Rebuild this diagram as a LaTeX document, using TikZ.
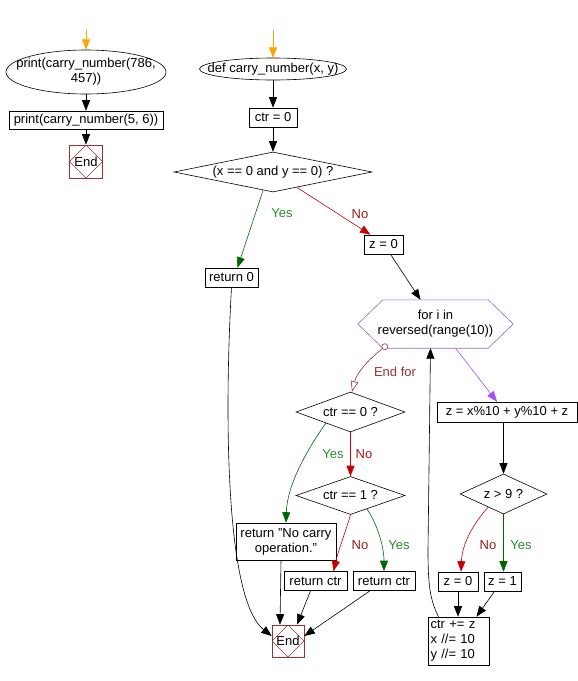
\documentclass[tikz,border=0pt]{standalone}
\usepackage{fontspec}
\setmainfont{Liberation Sans}
\usetikzlibrary{shapes.geometric,arrows.meta,calc}
\definecolor{orangec}{HTML}{FFA500}
\definecolor{greenl}{HTML}{006600}
\definecolor{greent}{HTML}{2E8B2E}
\definecolor{redl}{HTML}{C80000}
\definecolor{redt}{HTML}{A01818}
\definecolor{endc}{HTML}{993333}
\definecolor{purpl}{HTML}{9966CC}
\definecolor{purpa}{HTML}{A64DFF}
\begin{document}
\begin{tikzpicture}[x=1pt,y=-1pt,
  font=\fontsize{13pt}{15pt}\selectfont,
  box/.style={draw, fill=white, inner sep=2pt, line width=0.6pt, minimum height=19pt},
  plain/.style={inner sep=0pt},
  lbl/.style={inner sep=0pt},
  endbox/.style={draw=endc, line width=0.6pt, minimum size=33pt, inner sep=0pt,
    path picture={\draw[endc,line width=0.6pt] (path picture bounding box.north) -- (path picture bounding box.east) -- (path picture bounding box.south) -- (path picture bounding box.west) -- cycle;}},
  dia/.style={draw, diamond, fill=white, inner sep=0pt, line width=0.6pt},
  arr/.style={-{Triangle[length=10.5pt,width=8pt]}, line width=0.6pt},
  yesl/.style={arr, greenl},
  nol/.style={arr, redl},
  yest/.style={lbl, text=greent},
  not/.style={lbl, text=redt}]
\useasboundingbox[fill=white] (0,0) rectangle (578,681);

% ---------- left column ----------
\coordinate (s1) at (86,30);
\node[plain, minimum width=160pt, minimum height=44pt, align=center] (e1) at (86,72) {print(carry\_number(786,\\457))};
\draw[line width=0.6pt] (e1.center) ellipse [x radius=80pt, y radius=22pt];
\node[box, minimum width=154pt, minimum height=18pt] (b1) at (86,120) {print(carry\_number(5, 6))};
\node[endbox] (end1) at (86,161.5) {End};
\draw[arr, orangec] (s1) -- (e1.north);
\draw[arr] (e1.south) -- (b1.north);
\draw[arr] (b1.south) -- (end1.north);

% ---------- main flow ----------
\coordinate (s2) at (273,30);
\node[plain, minimum width=147pt, minimum height=22pt] (e2) at (273,69) {def carry\_number(x, y)};
\draw[line width=0.6pt] (e2.center) ellipse [x radius=73.5pt, y radius=11pt];
\node[box, minimum width=48pt] (ctr0) at (273,117.5) {ctr = 0};
\node[dia, aspect=4.95, minimum width=198pt, minimum height=40pt] (d) at (273,172) {(x == 0 and y == 0) ?};
\node[box, minimum width=53pt] (ret0) at (231.5,277.5) {return 0};
\node[box, minimum width=39pt] (za) at (383.5,244.5) {z = 0};

\draw[arr, orangec] (s2) -- (e2.north);
\draw[arr] (e2.south) -- (ctr0.north);
\draw[arr] (ctr0.south) -- (d.north);
\draw[yesl] ($(d.south)!0.1!(d.west)$) -- ([xshift=6pt]ret0.north);
\node[yest] at (282,213) {Yes};
\draw[nol] ($(d.south)!0.24!(d.east)$) -- ([xshift=-13pt]za.north);
\node[not] at (360,214) {No};

% for hexagon
\node[plain, minimum width=155pt, minimum height=48pt, align=center] (fh) at (435.5,324) {for i in\\reversed(range(10))};
\draw[purpl, line width=0.6pt] (fh.west) -- ([xshift=25pt]fh.north west) -- ([xshift=-25pt]fh.north east) -- (fh.east) -- ([xshift=-25pt]fh.south east) -- ([xshift=25pt]fh.south west) -- cycle;
\draw[arr] ([xshift=7pt]za.south) -- ([xshift=-15pt]fh.north);

\node[box, minimum width=140pt, minimum height=20pt] (zx) at (507,412) {z = x\%10 + y\%10 + z};
\draw[arr, purpa] ([xshift=20pt]fh.south) -- ([xshift=-10pt]zx.north);

% End for branch
\node[dia, aspect=2.7, minimum width=109pt, minimum height=40pt] (c0) at (350.5,412) {ctr == 0 ?};
\coordinate (efc) at ([xshift=27pt,yshift=1.5pt]fh.south west);
\draw[endc, line width=0.6pt, -{Triangle[open,length=10.5pt,width=7.5pt]}] (efc) .. controls (370,358) and (357,372) .. ([xshift=1.5pt]c0.north);
\draw[endc, fill=white, line width=0.6pt] (efc) circle [radius=3pt];
\node[lbl, text=endc] at (395,372) {End for};

\node[dia, aspect=2.7, minimum width=109pt, minimum height=38pt] (c1) at (350.5,495.5) {ctr == 1 ?};
\draw[nol] (c0.south) -- (c1.north);
\node[not] at (364,454) {No};
\node[yest] at (333,454) {Yes};

\node[box, minimum width=100pt, minimum height=37pt, align=center] (noc) at (286,541.5) {return "No carry\\operation."};
\node[box, minimum width=63pt] (rc1) at (315.5,581) {return ctr};
\node[box, minimum width=62pt] (rc2) at (384,581) {return ctr};
\node[endbox, minimum size=32pt] (end2) at (288,641) {End};

\draw[yesl] ($(c0.south)!0.45!(c0.west)$) .. controls (300,460) and (287,490) .. (noc.north);
\draw[nol] (c1.south) .. controls (346,530) and (338,552) .. ([xshift=18pt]rc1.north);
\node[not] at (360,545) {No};
\draw[yesl] ($(c1.south)!0.3!(c1.east)$) .. controls (378,525) and (384,548) .. (rc2.north);
\node[yest] at (399,545) {Yes};

\draw[arr] (ret0.south) .. controls (224,420) and (226,600) .. ([yshift=5pt]end2.west);
\draw[arr] ([xshift=-5pt]noc.south) -- ([xshift=-8pt]end2.north);
\draw[arr] ([xshift=-5pt]rc1.south) -- ([xshift=9pt]end2.north);
\draw[arr] ([xshift=-14pt]rc2.south) -- ([yshift=5pt]end2.east);

% z > 9 branch
\node[dia, aspect=2.2, minimum width=87pt, minimum height=40pt] (d2) at (503.5,494) {z > 9 ?};
\draw[arr] (d2.north |- zx.south) -- (d2.north);
\node[box, minimum width=40pt] (zb) at (458,581.5) {z = 0};
\node[box, minimum width=37pt] (z1) at (502.5,581.5) {z = 1};
\draw[nol] ($(d2.south)!0.35!(d2.west)$) .. controls (472,525) and (462,545) .. ([xshift=3pt]zb.north);
\node[not] at (488,545) {No};
\draw[yesl] (d2.south) -- (d2.south |- z1.north);
\node[yest] at (521,545) {Yes};

\node[box, minimum width=61pt, minimum height=48pt, text width=56pt, align=left, inner sep=2.5pt] (upd) at (458.5,641) {ctr += z\\x //= 10\\y //= 10};
\draw[arr] (zb.south) -- (zb.south |- upd.north);
\draw[arr] ([xshift=-8pt]z1.south) -- ([xshift=18pt]upd.north);
\draw[arr] ([xshift=-20pt]upd.north) .. controls (430,600) and (428,585) .. (428,550) -- ([xshift=-5pt]fh.south);
\end{tikzpicture}
\end{document}
